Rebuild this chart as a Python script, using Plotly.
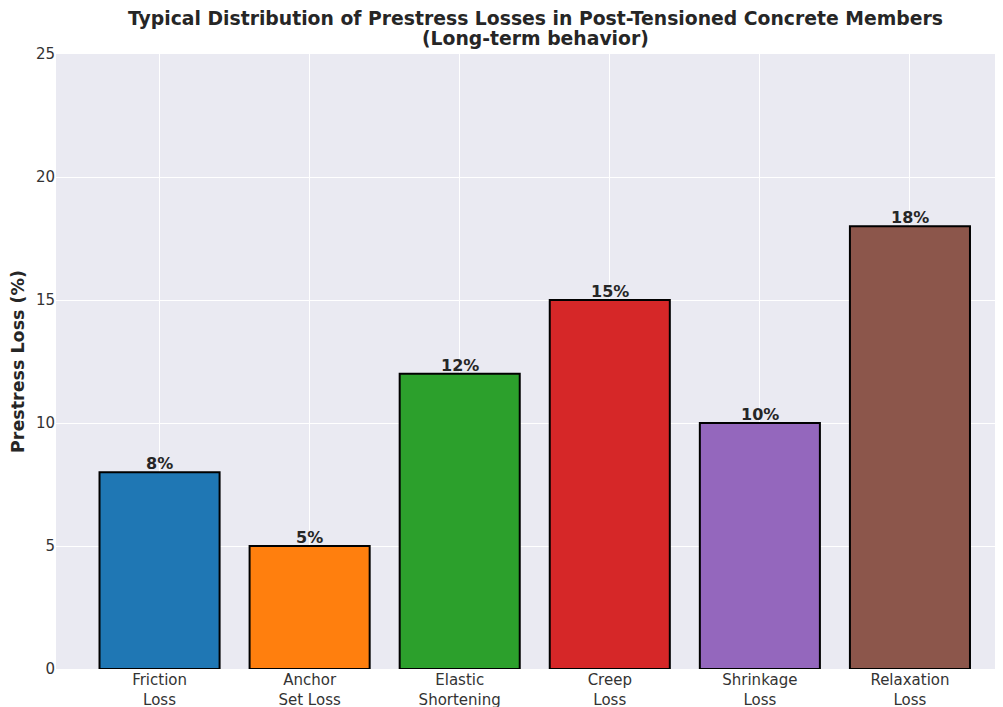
import plotly.graph_objects as go

categories = ["Friction<br>Loss", "Anchor<br>Set Loss", "Elastic<br>Shortening",
              "Creep<br>Loss", "Shrinkage<br>Loss", "Relaxation<br>Loss"]
losses = [8, 5, 12, 15, 10, 18]
colors = ["#1f77b4", "#ff7f0e", "#2ca02c", "#d62728", "#9467bd", "#8c564b"]
title_lines = ["Typical Distribution of Prestress Losses in Post-Tensioned Concrete Members",
               "(Long-term behavior)"]

positions = list(range(len(categories)))

fig = go.Figure(
    go.Bar(
        x=positions,
        y=losses,
        width=0.8,
        marker=dict(color=colors, line=dict(color="black", width=2)),
        hoverinfo="skip",
    )
)

# value labels sitting right on top of each bar
for i, v in zip(positions, losses):
    fig.add_annotation(
        x=i, y=v, text=f"<b>{v}%</b>", showarrow=False,
        yanchor="bottom", yshift=-3,
        font=dict(size=16, color="#262626"),
    )

# two-line title as annotations, tighter line spacing than plotly's title
for yy, line in zip([1.0585, 1.026], title_lines):
    fig.add_annotation(
        x=0.5063, y=yy, xref="paper", yref="paper",
        text=f"<b>{line}</b>", showarrow=False,
        xanchor="center", yanchor="middle",
        font=dict(size=18.8, color="#262626"),
    )

# page body adds an 8px margin, so the figure is sized to fit the window
fig.update_layout(
    width=995,
    height=699,
    margin=dict(l=48, r=0, t=46, b=38),
    paper_bgcolor="white",
    plot_bgcolor="#EAEAF2",
    font=dict(family="DejaVu Sans", color="#333333", size=15),
    showlegend=False,
)

fig.update_xaxes(
    tickmode="array",
    tickvals=positions,
    ticktext=categories,
    range=[-0.69, 5.62],
    showgrid=True,
    gridcolor="white",
    gridwidth=1,
    zeroline=False,
    ticks="",
    automargin=False,
)
fig.update_yaxes(
    range=[0, 25],
    dtick=5,
    showgrid=True,
    gridcolor="white",
    gridwidth=1,
    zeroline=False,
    automargin=False,
    title=dict(text="<b>Prestress Loss (%)</b>", font=dict(size=17.5, color="#262626"), standoff=8),
)

fig.write_html("out.html")
